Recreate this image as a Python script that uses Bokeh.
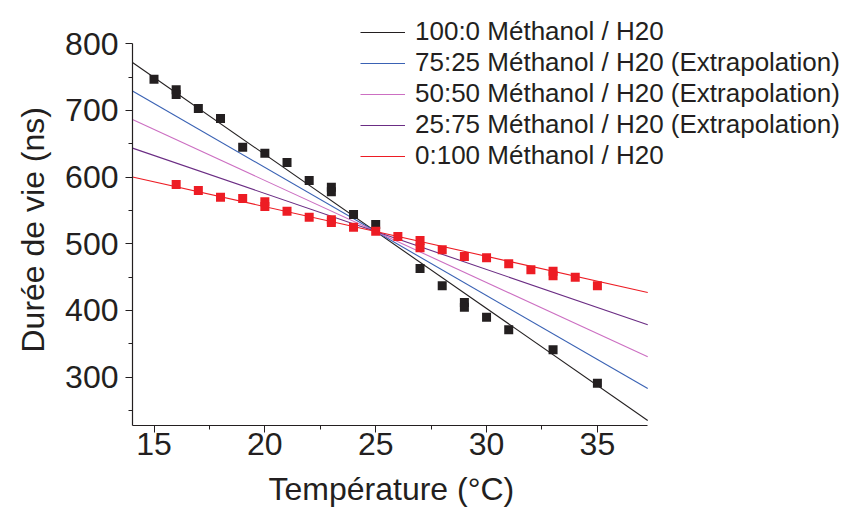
from bokeh.plotting import figure
from bokeh.models import Range1d, FixedTicker, Legend, LegendItem, Title
from bokeh.embed import file_html
from bokeh.resources import INLINE

# ---- data ----
T_black = [15, 16, 16, 17, 18, 19, 20, 21, 22, 23, 23, 24, 25, 27, 28, 29, 29, 30, 31, 33, 35]
L_black = [747, 731, 724, 703, 688, 645, 636, 622, 595, 585, 578, 544, 529, 463, 437, 412, 405, 390, 371, 341, 291]

T_red = [16, 17, 18, 19, 20, 20, 21, 22, 23, 23, 24, 25, 26, 27, 27, 28, 29, 30, 31, 32, 33, 33, 34, 35]
L_red = [589, 580, 570, 568, 563, 556, 549, 540, 536, 532, 525, 519, 511, 505, 494, 491, 481, 479, 470, 461, 459, 452, 450, 437]

series_labels = [
    "100:0 Méthanol / H20",
    "75:25 Méthanol / H20 (Extrapolation)",
    "50:50 Méthanol / H20 (Extrapolation)",
    "25:75 Méthanol / H20 (Extrapolation)",
    "0:100 Méthanol / H20",
]
series_slopes = [-23.1, -19.2, -15.3, -11.4, -7.45]   # ns / °C
pivot_T = 25.0
pivot_L = 518.5
series_colors = ["#231f20", "#3a62b4", "#cc6fc2", "#6b2d84", "#ed1c24"]

x_ticks = [15, 20, 25, 30, 35]
x_minor = [17.5, 22.5, 27.5, 32.5]
y_ticks = [300, 400, 500, 600, 700, 800]
y_minor = [250, 350, 450, 550, 650, 750]

x_title = "Température (°C)"
y_title = "Durée de vie (ns)"

# axis extents (data units)
x_start, x_end = 14.03, 37.27
y_start, y_end = 227.5, 800

# ---- layout (pixels) ----
W, H = 847, 517
FL, FB = 132, 425            # frame left / frame bottom in canvas px
px_per_x = 22.17
px_per_y = 0.6667
x_view_end = x_start + (W - FL) / px_per_x
y_view_end = y_start + FB / px_per_y

FONT = "Liberation Sans"
TXT = "#231f20"

p = figure(width=W, height=H, output_backend="svg", toolbar_location=None,
           x_range=Range1d(x_start, x_view_end), y_range=Range1d(y_start, y_view_end),
           min_border_left=FL, min_border_right=0, min_border_top=0, min_border_bottom=H - FB)
p.outline_line_color = None
p.xgrid.visible = False
p.ygrid.visible = False
p.background_fill_color = "white"
p.border_fill_color = "white"

items = []
for lab, s, c in zip(series_labels, series_slopes, series_colors):
    xs = [x_start, x_end]
    ys = [pivot_L + s * (x - pivot_T) for x in xs]
    r = p.line(xs, ys, line_color=c, line_width=1.1)
    items.append(LegendItem(label=lab, renderers=[r]))

p.scatter(T_black, L_black, marker="square", size=9, fill_color="#231f20", line_color=None)
p.scatter(T_red, L_red, marker="square", size=9, fill_color="#ed1c24", line_color=None)

for ax in (p.xaxis[0], p.yaxis[0]):
    ax.axis_line_color = TXT
    ax.axis_line_width = 1.2
    ax.major_tick_line_color = TXT
    ax.minor_tick_line_color = TXT
    ax.major_tick_out = 7
    ax.major_tick_in = 0
    ax.minor_tick_out = 4
    ax.minor_tick_in = 0
    ax.major_label_text_font = FONT
    ax.major_label_text_font_size = "32px"
    ax.major_label_text_color = TXT

p.xaxis.bounds = (x_start, x_end)
p.yaxis.bounds = (y_start, y_end)
p.xaxis.ticker = FixedTicker(ticks=x_ticks, minor_ticks=x_minor)
p.yaxis.ticker = FixedTicker(ticks=y_ticks, minor_ticks=y_minor)
p.xaxis.major_label_standoff = 0
p.yaxis.major_label_standoff = 7

# axis titles as Titles so they can be positioned along the bounded axes
xt = Title(text=x_title, align="left", offset=136, standoff=22,
           text_font=FONT, text_font_size="32px", text_font_style="normal", text_color=TXT)
p.add_layout(xt, "below")
yt = Title(text=y_title, align="left", offset=73, standoff=24,
           text_font=FONT, text_font_size="32px", text_font_style="normal", text_color=TXT)
p.add_layout(yt, "left")

legend = Legend(items=items, location=(228, FB - 171), padding=0, margin=0,
                border_line_color=None, background_fill_alpha=0,
                glyph_width=45, glyph_height=20, label_height=20, spacing=0,
                label_standoff=10, label_text_font=FONT, label_text_font_size="26px",
                label_text_color=TXT)
p.add_layout(legend, "center")

open("out.html", "w").write(file_html(p, INLINE))
